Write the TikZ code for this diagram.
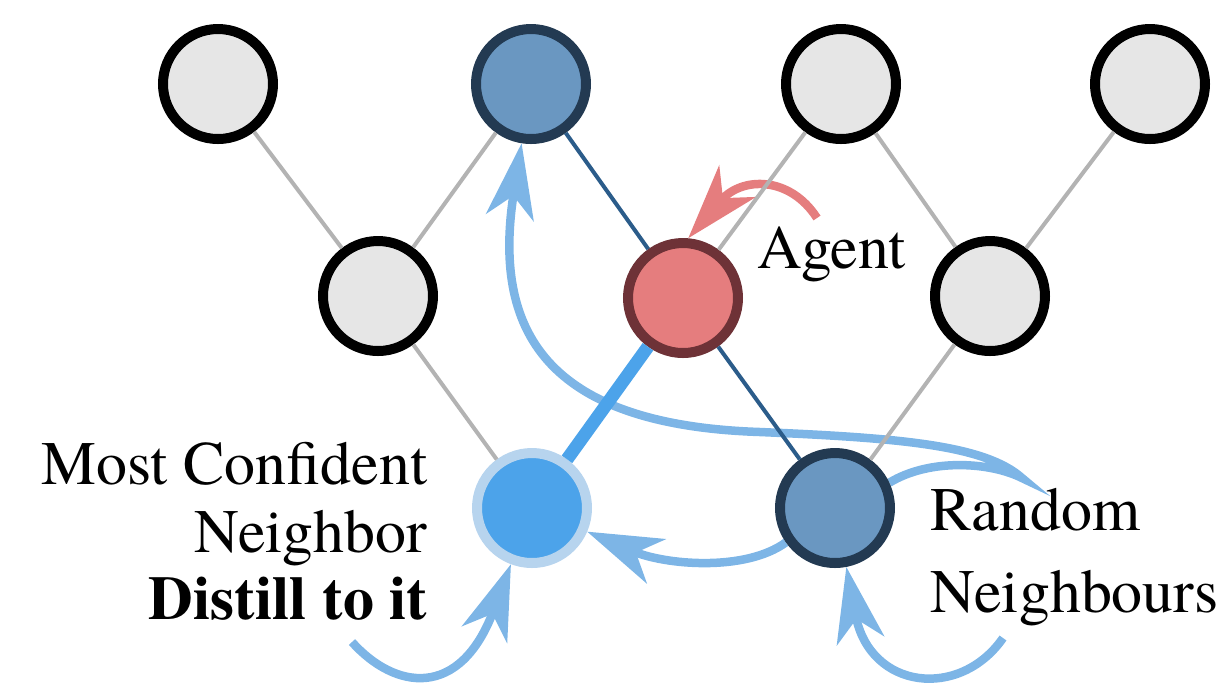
\documentclass[tikz,border=0pt]{standalone}
\usepackage{fontspec}
\setmainfont{TeX Gyre Termes}
\usetikzlibrary{arrows.meta,backgrounds}

\definecolor{idlefill}{HTML}{E6E6E6}
\definecolor{edgegray}{HTML}{B3B3B3}
\definecolor{steelfill}{HTML}{6A97C1}
\definecolor{navyline}{HTML}{233A52}
\definecolor{agentfill}{HTML}{E57D7E}
\definecolor{agentline}{HTML}{6E3237}
\definecolor{bestfill}{HTML}{4CA3EA}
\definecolor{bestline}{HTML}{B7D4EE}
\definecolor{flowblue}{HTML}{7DB5E6}
\definecolor{linkblue}{HTML}{2B5C8A}

\begin{document}
\begin{tikzpicture}[x=0.1mm, y=-0.1mm,
    vertex/.style={circle, line width=1mm, minimum size=11mm, inner sep=0pt},
    idle/.style={vertex, fill=idlefill, draw=black},
    picked/.style={vertex, fill=steelfill, draw=navyline},
    tag/.style={inner sep=0pt, font=\rmfamily\fontsize{17.6}{19.2}\selectfont},
    flow/.style={draw=flowblue, line width=0.85mm, -{Stealth[length=7.5mm, width=4.8mm, inset=2.2mm]}}]
        \useasboundingbox (0,0) rectangle (1225,691);

        % The Graph
        \node (g1) [idle] at (218,84) {};
        \node (top) [picked] at (531,84) {};
        \node (g3) [idle] at (841,84) {};
        \node (g5) [idle] at (1150,84) {};
        \node (g2) [idle] at (378,296) {};
        \node (agent) [vertex, fill=agentfill, draw=agentline] at (683,298) {};
        \node (g4) [idle] at (990,296) {};
        \node (best) [vertex, fill=bestfill, draw=bestline] at (532,508) {};
        \node (rnd) [picked] at (835,508) {};

        \draw[edgegray, line width=0.4mm] (g1) -- (g2) -- (top);
        \draw[edgegray, line width=0.4mm] (g2) -- (best);
        \draw[edgegray, line width=0.4mm] (agent) -- (g3) -- (g4) -- (g5);
        \draw[edgegray, line width=0.4mm] (g4) -- (rnd);
        \draw[linkblue, line width=0.4mm] (top) -- (agent) -- (rnd);
        \draw[bestfill, line width=1.3mm] (agent) -- (best);

        % Labels
        \node (agentlbl) [tag, anchor=base west] at (757,268) {Agent};
        \node (bestlbl) [tag, anchor=north east, align=right] at (428,442)
            {Most Confident\\Neighbor\\\textbf{Distill to it}};
        \node (rndlbl) [tag, anchor=north west, align=left,
            font=\rmfamily\fontsize{17.6}{23.3}\selectfont] at (930,488) {Random\\Neighbours};

        % Messages
        \coordinate (hair) at (1022,478);
        \coordinate (lstart) at (352,642);
        \coordinate (rstart) at (1003,638);
        \coordinate (astart) at (817,218);
        \begin{scope}[on background layer]
            \draw[flow] (rnd.25) .. controls (930,458) and (990,462) .. (hair)
                .. controls (985,445) and (900,438) .. (760,432)
                .. controls (545,425) and (492,330) .. (top);
            \draw[flow] (rnd.215) .. controls (745,572) and (665,565) .. (best);
            \draw[flow] (lstart) .. controls (395,690) and (460,700) .. (best);
            \draw[flow] (rstart) .. controls (960,700) and (870,690) .. (rnd);
            \draw[flow, draw=agentfill] (astart) .. controls (790,176) and (742,176) .. (agent.85);
        \end{scope}
\end{tikzpicture}
\end{document}
